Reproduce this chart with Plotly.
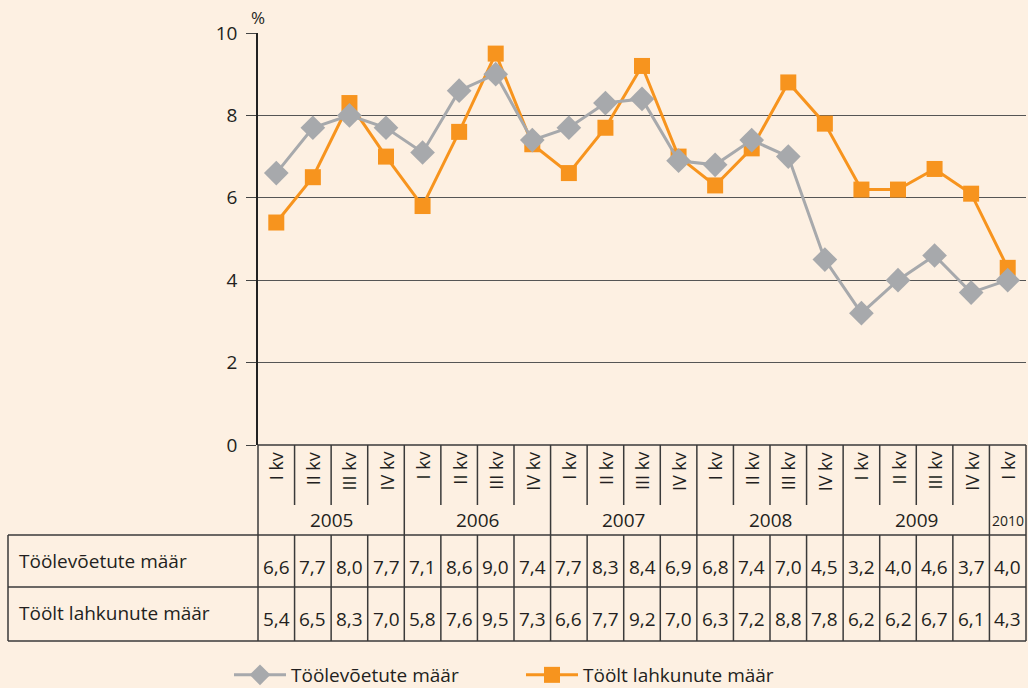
import plotly.graph_objects as go

# quarterly rates, 2005 I kv ... 2010 I kv
quarters = ["I kv", "II kv", "III kv", "IV kv"] * 5 + ["I kv"]
years = ["2005", "2006", "2007", "2008", "2009", "2010"]
year_len = [4, 4, 4, 4, 4, 1]
hired = [6.6, 7.7, 8.0, 7.7, 7.1, 8.6, 9.0, 7.4, 7.7, 8.3, 8.4, 6.9,
         6.8, 7.4, 7.0, 4.5, 3.2, 4.0, 4.6, 3.7, 4.0]
left = [5.4, 6.5, 8.3, 7.0, 5.8, 7.6, 9.5, 7.3, 6.6, 7.7, 9.2, 7.0,
        6.3, 7.2, 8.8, 7.8, 6.2, 6.2, 6.7, 6.1, 4.3]
name_hired = "Töölevõetute määr"
name_left = "Töölt lahkunute määr"

W, H = 1028, 688
BG = "#fdf0e2"
GRAY = "#a7a9ac"
ORANGE = "#f7941e"
INK = "#231f20"
FONT = "Open Sans"


def px_x(p):
    return p / W


def px_y(p):
    return 1 - p / H


x_left, x_right = 258, 1026
x = list(range(len(hired)))

fig = go.Figure()
fig.add_trace(go.Scatter(
    x=x, y=left, name=name_left, mode="lines+markers",
    line=dict(color=ORANGE, width=3),
    marker=dict(symbol="square", size=16, color=ORANGE),
    legendrank=2,
))
fig.add_trace(go.Scatter(
    x=x, y=hired, name=name_hired, mode="lines+markers",
    line=dict(color=GRAY, width=3),
    marker=dict(symbol="diamond", size=19, color=GRAY),
    legendrank=1,
))

line_style = dict(color="#3a3a3a", width=1.5)
shapes = []
# table horizontal rules
for yy in [535, 587, 641]:
    shapes.append(dict(type="line", xref="paper", yref="paper",
                       x0=px_x(8), x1=px_x(x_right), y0=px_y(yy), y1=px_y(yy),
                       line=line_style))
shapes.append(dict(type="line", xref="paper", yref="paper",
                   x0=px_x(x_left), x1=px_x(x_right), y0=px_y(445), y1=px_y(445),
                   line=line_style))
# outer verticals
for xx, y0 in [(8, 535), (x_left, 445), (x_right, 445)]:
    shapes.append(dict(type="line", xref="paper", yref="paper",
                       x0=px_x(xx), x1=px_x(xx), y0=px_y(y0), y1=px_y(641),
                       line=line_style))
# column separators
boundaries = []
acc = 0
for n in year_len[:-1]:
    acc += n
    boundaries.append(acc)
for i in range(1, len(hired)):
    if i in boundaries:
        shapes.append(dict(type="line", xref="x", yref="paper",
                           x0=i - 0.5, x1=i - 0.5, y0=px_y(445), y1=px_y(641),
                           line=line_style))
    else:
        shapes.append(dict(type="line", xref="x", yref="paper",
                           x0=i - 0.5, x1=i - 0.5, y0=px_y(445), y1=px_y(505),
                           line=line_style))
        shapes.append(dict(type="line", xref="x", yref="paper",
                           x0=i - 0.5, x1=i - 0.5, y0=px_y(535), y1=px_y(641),
                           line=line_style))

annotations = []
# quarter labels, rotated
for i, q in enumerate(quarters):
    annotations.append(dict(x=i, y=px_y(450), xref="x", yref="paper",
                            text=q, textangle=-90, showarrow=False,
                            xanchor="center", yanchor="top",
                            font=dict(size=18, color=INK)))
# year labels
start = 0
for yr, n in zip(years, year_len):
    annotations.append(dict(x=start + (n - 1) / 2, y=px_y(520), xref="x", yref="paper",
                            text=yr, showarrow=False, xanchor="center", yanchor="middle",
                            font=dict(size=19 if n > 1 else 14, color=INK)))
    start += n
# table values
for row_y, vals in [(567, hired), (619, left)]:
    for i, v in enumerate(vals):
        annotations.append(dict(x=i, y=px_y(row_y), xref="x", yref="paper",
                                text=f"{v:.1f}".replace(".", ","), showarrow=False,
                                xanchor="center", yanchor="middle",
                                font=dict(size=19, color=INK)))
# row headers
for row_y, label in [(561, name_hired), (613, name_left)]:
    annotations.append(dict(x=px_x(17), y=px_y(row_y), xref="paper", yref="paper",
                            text=label, showarrow=False, xanchor="left", yanchor="middle",
                            font=dict(size=19, color=INK)))
# unit
annotations.append(dict(x=px_x(249), y=px_y(17), xref="paper", yref="paper",
                        text="%", showarrow=False, xanchor="left", yanchor="middle",
                        font=dict(size=17, color=INK)))

fig.update_layout(
    width=W, height=H,
    margin=dict(l=0, r=0, t=0, b=0, autoexpand=False),
    paper_bgcolor=BG, plot_bgcolor=BG,
    font=dict(family=FONT, color=INK),
    showlegend=True,
    legend=dict(orientation="h", x=px_x(229), y=px_y(675), xanchor="left", yanchor="middle",
                bgcolor="rgba(0,0,0,0)", font=dict(size=19, color=INK),
                entrywidth=225, entrywidthmode="pixels", itemwidth=52),
    xaxis=dict(domain=[px_x(x_left), px_x(x_right)], range=[-0.5, len(hired) - 0.5],
               showgrid=False, showticklabels=False, zeroline=False, ticks=""),
    yaxis=dict(domain=[px_y(445), px_y(33)], range=[0, 10], dtick=2,
               showgrid=True, gridcolor="#555555", gridwidth=1.2,
               showline=True, linecolor="#222222", linewidth=1.5,
               ticks="outside", ticklen=10, tickcolor="#444444",
               ticklabelstandoff=5,
               tickfont=dict(size=19, color=INK), zeroline=False),
    shapes=shapes,
    annotations=annotations,
)

fig.write_html("out.html", config={"displayModeBar": False},
               post_script="document.body.style.margin='0';")
